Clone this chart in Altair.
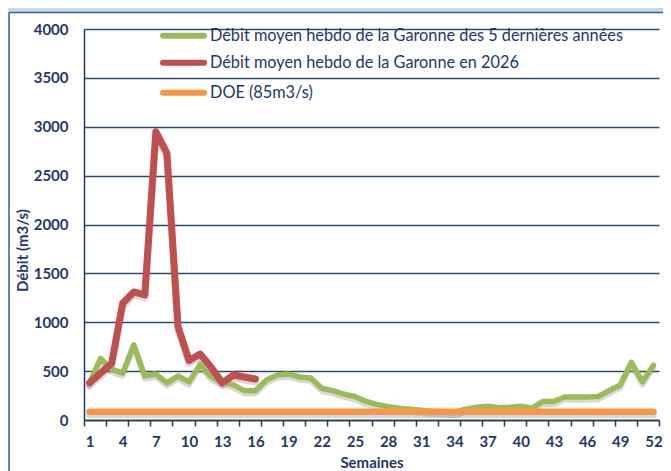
import altair as alt
import pandas as pd

weeks = list(range(1, 53))
green_5ans = [380, 630, 520, 480, 770, 450, 470, 380, 450, 390,
              570, 440, 390, 360, 300, 300, 410, 460, 470, 440,
              430, 325, 300, 265, 240, 190, 160, 135, 120, 110,
              100, 90, 85, 75, 110, 130, 140, 125, 130, 140,
              120, 190, 190, 235, 235, 235, 240, 300, 360, 590,
              390, 560]
red_2026 = [380, 480, 580, 1195, 1310, 1280, 2950, 2730, 955, 610,
            675, 540, 380, 460, 440, 420]
doe_value = 85

legend_labels = ["Débit moyen hebdo de la Garonne des 5 dernières années",
                 "Débit moyen hebdo de la Garonne en 2026",
                 "DOE (85m3/s)"]
y_ticks = list(range(0, 4001, 500))
x_label_vals = list(range(1, 53, 3))
x_tick_vals = [0.5 + 2 * k for k in range(27)]

GREEN = "#9bbb59"
RED = "#c0504d"
ORANGE = "#f79646"
NAVY = "#1f3864"
GRID = "#2c4a6e"
FONT = "Lato"

df_green = pd.DataFrame({"week": weeks, "v": green_5ans})
df_red = pd.DataFrame({"week": weeks[:len(red_2026)], "v": red_2026})
df_doe = pd.DataFrame({"week": weeks, "v": [doe_value] * len(weeks)})

xscale = alt.Scale(domain=[0.5, 52.5], nice=False, zero=False)
yscale = alt.Scale(domain=[0, 4000], nice=False)

x_axis = alt.Axis(
    values=sorted(x_label_vals + x_tick_vals),
    labelExpr="datum.value % 1 == 0 ? datum.label : ''",
    tickOpacity={"condition": {"test": "datum.value % 1 == 0", "value": 0}, "value": 1},
    tickSize=6, tickWidth=1.5, tickColor=NAVY,
    domainColor=NAVY, domainWidth=1.5,
    labelFont=FONT, labelFontSize=15, labelFontWeight="bold", labelColor=NAVY,
    labelPadding=8, labelOverlap=False, labelFlush=False,
    grid=False,
    title="Semaines", titleFont=FONT, titleFontSize=15, titleFontWeight="bold",
    titleColor=NAVY, titleBaseline="top", titleY=35,
)
y_axis = alt.Axis(
    values=y_ticks, ticks=False, tickSize=0, format="d",
    domainColor=NAVY, domainWidth=1.5,
    grid=True, gridColor=GRID, gridWidth=1.5,
    labelFont=FONT, labelFontSize=15, labelFontWeight="bold", labelColor=NAVY,
    labelPadding=16,
    title="Débit (m3/s)", titleFont=FONT, titleFontSize=15, titleFontWeight="bold",
    titleColor=NAVY, titleAngle=270, titleAlign="center", titleBaseline="middle",
    titleX=-62, titleY=221,
)

one = pd.DataFrame({"a": [0]})

band = alt.Chart(one).mark_rect(color="#c6d9f1").encode(
    x=alt.value(-76), x2=alt.value(590), y=alt.value(-21), y2=alt.value(-16.5))
top_border = alt.Chart(one).mark_rule(color="#385d8a", strokeWidth=1.5).encode(
    x=alt.value(-75), x2=alt.value(590), y=alt.value(-16.5))
left_border = alt.Chart(one).mark_rule(color="#385d8a", strokeWidth=1.5).encode(
    x=alt.value(-75), y=alt.value(-16.5), y2=alt.value(470))


def line(df, color, width, shadow=False):
    enc = dict(x=alt.X("week:Q", scale=xscale, axis=x_axis),
               y=alt.Y("v:Q", scale=yscale, axis=y_axis))
    if shadow:
        return alt.Chart(df).mark_line(color="#7f7f7f", opacity=0.3, strokeWidth=width,
                                       strokeCap="round", strokeJoin="round",
                                       yOffset=3).encode(**enc)
    return alt.Chart(df).mark_line(color=color, strokeWidth=width, strokeCap="round",
                                   strokeJoin="round").encode(**enc)


leg_df = pd.DataFrame({"label": legend_labels, "ypix": [6.7, 33.7, 63.7],
                       "color": [GREEN, RED, ORANGE]})
leg_lines = alt.Chart(leg_df).mark_rule(strokeWidth=6, strokeCap="round").encode(
    x=alt.value(79), x2=alt.value(120), y=alt.Y("ypix:Q", scale=None),
    color=alt.Color("color:N", scale=None))
leg_text = alt.Chart(leg_df).mark_text(align="left", baseline="middle", font=FONT,
                                       fontSize=16.3, color=NAVY).encode(
    x=alt.value(126), y=alt.Y("ypix:Q", scale=None), text="label:N")

chart = alt.layer(
    band, top_border, left_border,
    line(df_green, GREEN, 5.5, True),
    line(df_red, RED, 7, True),
    line(df_doe, ORANGE, 6.5, True),
    line(df_green, GREEN, 5.5),
    line(df_red, RED, 7),
    line(df_doe, ORANGE, 6.5),
    leg_lines, leg_text,
).properties(
    width=575, height=391,
    autosize=alt.AutoSizeParams(type="none"),
    padding={"left": 76, "top": 21, "right": 4, "bottom": 62},
    background="white",
).configure_view(stroke=None)

chart.save("out.html", embed_options={"renderer": "svg", "actions": False})
